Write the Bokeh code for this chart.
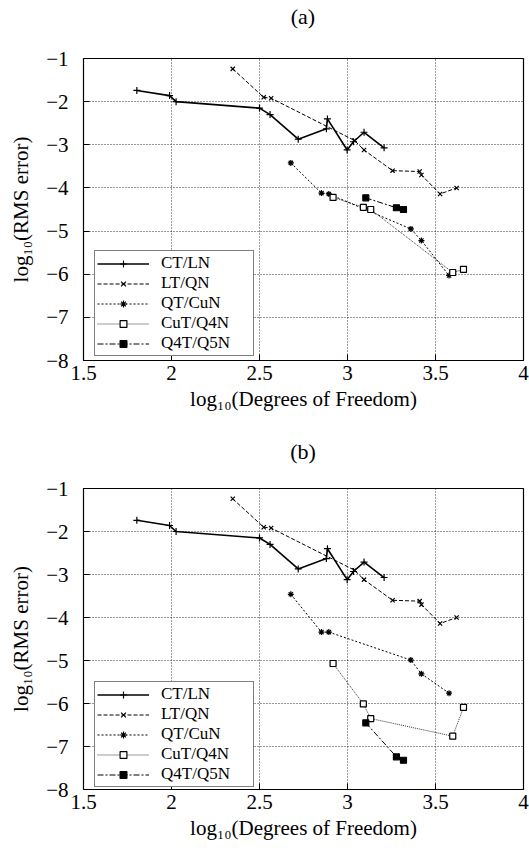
from bokeh.plotting import figure
from bokeh.layouts import column
from bokeh.models import FixedTicker, Legend, LegendItem, Range1d, Div
from bokeh.embed import file_html
from bokeh.resources import INLINE

# ---- data (log10 DOF, log10 RMS error) ----
ct_ln_x = [1.803, 1.989, 2.026, 2.500, 2.560, 2.720, 2.880, 2.886, 2.998, 3.034, 3.094, 3.208]
ct_ln_y = [-1.74, -1.86, -2.00, -2.15, -2.30, -2.87, -2.63, -2.40, -3.12, -2.93, -2.71, -3.07]

lt_qn_x = [2.348, 2.524, 2.566, 3.040, 3.094, 3.256, 3.410, 3.420, 3.526, 3.620]
lt_qn_y = [-1.24, -1.90, -1.92, -2.90, -3.12, -3.60, -3.62, -3.70, -4.14, -4.00]

qt_cun_x = [2.678, 2.852, 2.894, 3.360, 3.420, 3.577]
qt_cun_y_a = [-3.42, -4.12, -4.14, -4.95, -5.22, -6.03]
qt_cun_y_b = [-3.46, -4.34, -4.34, -4.99, -5.31, -5.76]

cut_q4n_x = [2.918, 3.090, 3.132, 3.598, 3.659]
cut_q4n_y_a = [-4.22, -4.45, -4.50, -5.96, -5.89]
cut_q4n_y_b = [-5.07, -6.01, -6.35, -6.76, -6.09]

q4t_q5n_x = [3.104, 3.278, 3.318]
q4t_q5n_y_a = [-4.23, -4.46, -4.50]
q4t_q5n_y_b = [-6.45, -7.24, -7.32]

series_names = ["CT/LN", "LT/QN", "QT/CuN", "CuT/Q4N", "Q4T/Q5N"]
x_ticks = [1.5, 2.0, 2.5, 3.0, 3.5, 4.0]
x_tick_labels = ["1.5", "2", "2.5", "3", "3.5", "4"]
y_ticks = [-1, -2, -3, -4, -5, -6, -7, -8]
y_tick_labels = ["\u22121", "\u22122", "\u22123", "\u22124", "\u22125", "\u22126", "\u22127", "\u22128"]

FONT = "Liberation Serif"

styles = [
    dict(dash="solid", lw=1.6, marker="cross", size=7, fill=True),
    dict(dash="4 2", lw=1.0, marker="x", size=6, fill=True),
    dict(dash="2 2", lw=1.0, marker="asterisk", size=6, fill=True),
    dict(dash="1 1", lw=0.8, marker="square", size=6, fill=False),
    dict(dash="6 2 2 2", lw=1.0, marker="square", size=6, fill=True),
]


def make_title(text, height):
    return Div(text=("<div style=\"width:440px;margin-left:83px;text-align:center;"
                     "font-family:'Liberation Serif',serif;font-size:22px;color:black;"
                     "line-height:%dpx\">%s</div>" % (height, text)),
               width=529, height=height, margin=0)


def make_fig(data, height, top, bottom, legend_y):
    p = figure(width=529, height=height, output_backend="svg", toolbar_location=None,
               x_range=Range1d(1.5, 4.0), y_range=Range1d(-8.0, -1.0),
               min_border_left=83, min_border_right=6,
               min_border_top=top, min_border_bottom=bottom, margin=0)

    p.outline_line_color = "black"
    p.outline_line_width = 1.2
    p.background_fill_color = "white"

    for ax, ticks, labels in ((p.xaxis[0], x_ticks, x_tick_labels), (p.yaxis[0], y_ticks, y_tick_labels)):
        ax.ticker = FixedTicker(ticks=ticks)
        ax.major_label_overrides = {t: l for t, l in zip(ticks, labels)}
        ax.minor_tick_line_color = None
        ax.major_tick_in = 6
        ax.major_tick_out = 0
        ax.major_tick_line_color = "black"
        ax.axis_line_color = "black"
        ax.major_label_text_font = FONT
        ax.major_label_text_font_size = "21px"
        ax.major_label_text_color = "black"
        ax.axis_label_text_font = FONT
        ax.axis_label_text_font_style = "normal"
        ax.axis_label_text_font_size = "21px"
        ax.axis_label_text_color = "black"

    p.xaxis.axis_label = "log\u2081\u2080(Degrees of Freedom)"
    p.yaxis.axis_label = "log\u2081\u2080(RMS error)"
    p.xaxis.major_label_standoff = 5
    p.xaxis.axis_label_standoff = 4
    p.yaxis.major_label_standoff = 15
    p.yaxis.axis_label_standoff = 10

    for g in (p.xgrid[0], p.ygrid[0]):
        g.grid_line_color = "black"
        g.grid_line_dash = "1 2"
        g.grid_line_width = 1
        g.grid_line_alpha = 0.8

    items = []
    for name, (xs, ys), st in zip(series_names, data, styles):
        lr = p.line(xs, ys, line_color="black", line_width=st["lw"], line_dash=st["dash"])
        sr = p.scatter(xs, ys, marker=st["marker"], size=st["size"], line_color="black",
                       line_width=1.2, fill_color="black" if st["fill"] else "white")
        items.append(LegendItem(label=name, renderers=[lr, sr]))

    leg = Legend(items=items, location=(11, legend_y))
    leg.label_text_font = FONT
    leg.label_text_font_size = "17px"
    leg.label_text_color = "black"
    leg.border_line_color = "black"
    leg.border_line_width = 1.2
    leg.background_fill_alpha = 1.0
    leg.glyph_width = 52
    leg.glyph_height = 17
    leg.label_height = 17
    leg.label_width = 90
    leg.spacing = 0
    leg.padding = 2
    leg.margin = 0
    leg.label_standoff = 12
    p.add_layout(leg, "center")
    return p


data_a = [(ct_ln_x, ct_ln_y), (lt_qn_x, lt_qn_y), (qt_cun_x, qt_cun_y_a),
          (cut_q4n_x, cut_q4n_y_a), (q4t_q5n_x, q4t_q5n_y_a)]
data_b = [(ct_ln_x, ct_ln_y), (lt_qn_x, lt_qn_y), (qt_cun_x, qt_cun_y_b),
          (cut_q4n_x, cut_q4n_y_b), (q4t_q5n_x, q4t_q5n_y_b)]

ta = make_title("(a)", 34)
pa = make_fig(data_a, 404, 24, 78, 4)
tb = make_title("(b)", 28)
pb = make_fig(data_b, 382, 22, 59, 2)

layout = column(ta, pa, tb, pb, spacing=0)
open("out.html", "w").write(file_html(layout, INLINE))
